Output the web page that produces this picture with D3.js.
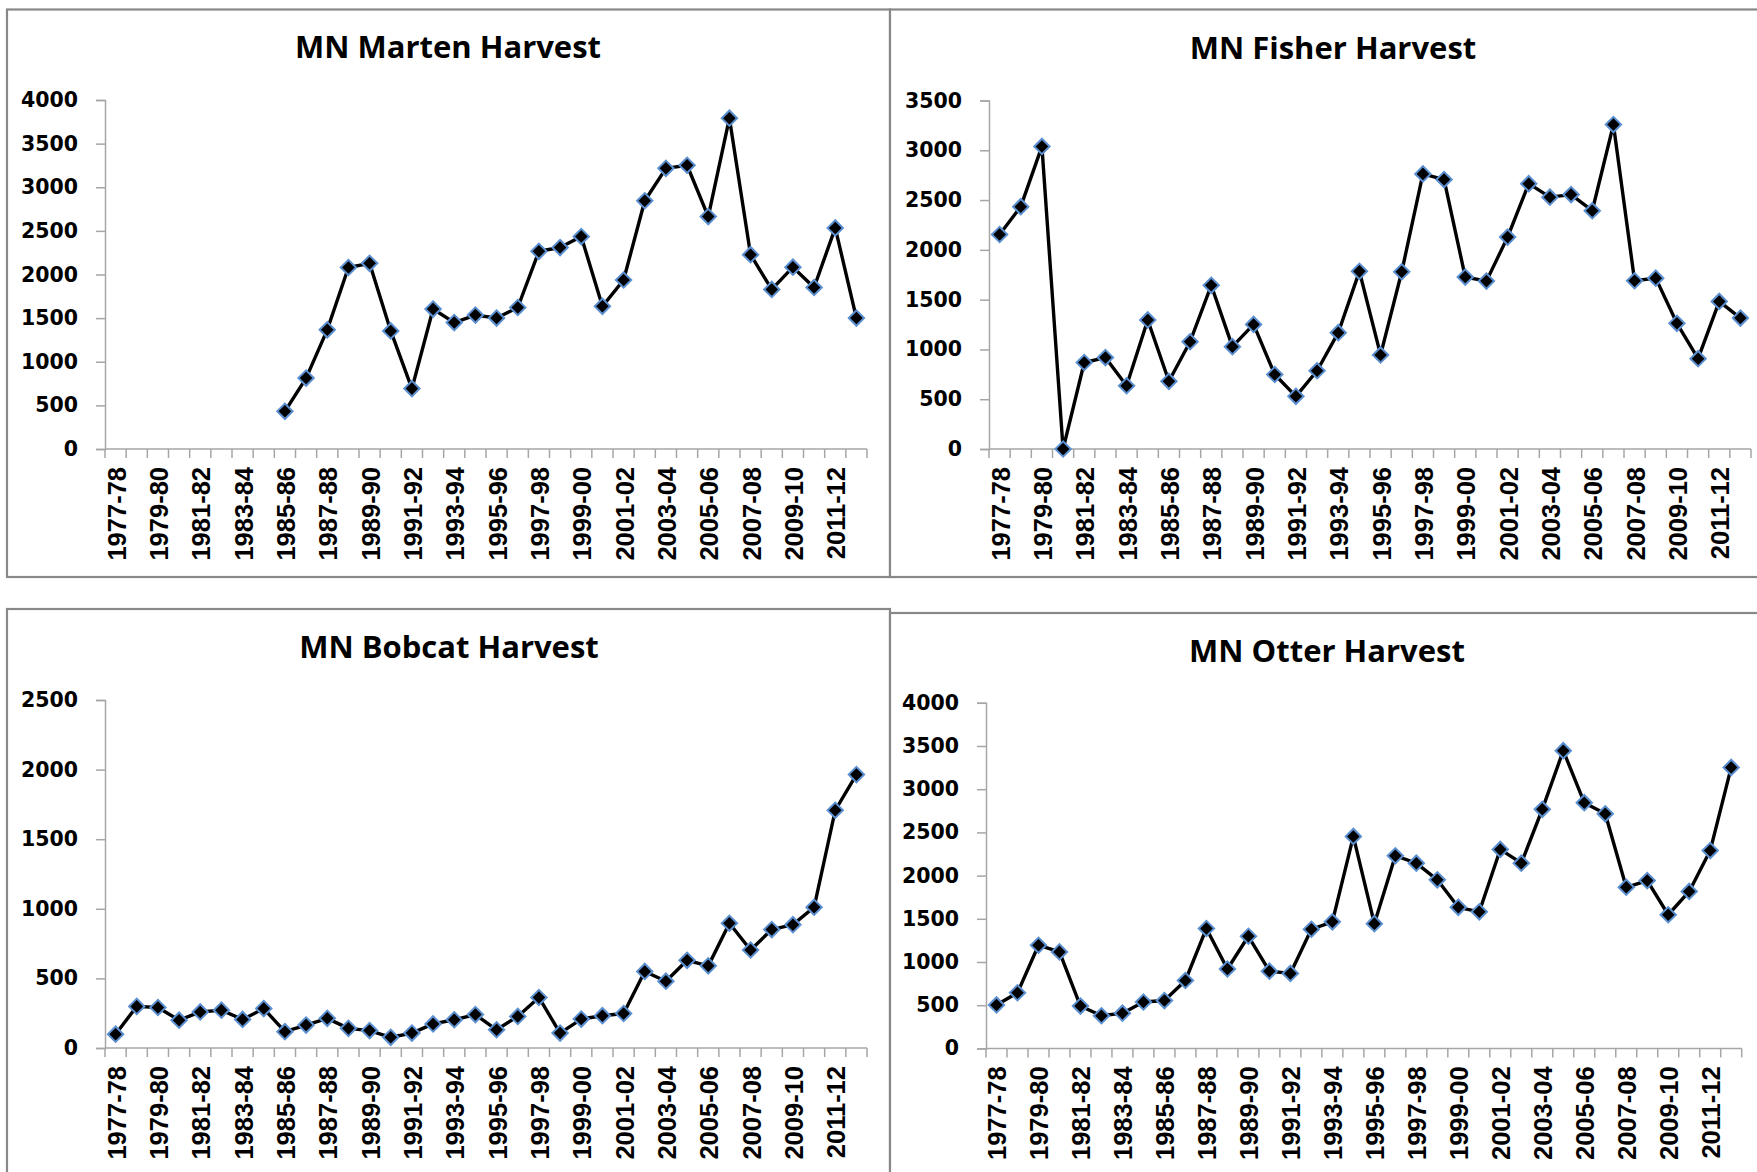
<!DOCTYPE html>
<html>
<head>
<meta charset="utf-8">
<script src="https://cdn.jsdelivr.net/npm/d3@7"></script>
<style>
  html, body { margin: 0; padding: 0; background: #fff; }
  svg { display: block; }
</style>
</head>
<body>
<svg id="chart" width="1757" height="1172"></svg>
<script>
// ---------------- DATA ----------------
const seasons = [
  "1977-78","1978-79","1979-80","1980-81","1981-82","1982-83","1983-84","1984-85",
  "1985-86","1986-87","1987-88","1988-89","1989-90","1990-91","1991-92","1992-93",
  "1993-94","1994-95","1995-96","1996-97","1997-98","1998-99","1999-00","2000-01",
  "2001-02","2002-03","2003-04","2004-05","2005-06","2006-07","2007-08","2008-09",
  "2009-10","2010-11","2011-12","2012-13"
];
const tickLabels = [
  "1977-78","1979-80","1981-82","1983-84","1985-86","1987-88","1989-90","1991-92",
  "1993-94","1995-96","1997-98","1999-00","2001-02","2003-04","2005-06","2007-08",
  "2009-10","2011-12"
];
const martenValues = [
  null, null, null, null, null, null, null, null,
  432, 813, 1366, 2080, 2128, 1353, 692, 1604,
  1449, 1535, 1501, 1622, 2266, 2309, 2435, 1635,
  1937, 2845, 3217, 3252, 2664, 3792, 2227, 1829,
  2084, 1851, 2534, 1501
];
const fisherValues = [
  2154, 2434, 3039, 0, 869, 918, 635, 1296,
  680, 1077, 1644, 1028, 1251, 748, 529, 786,
  1168, 1784, 945, 1780, 2763, 2706, 1727, 1686,
  2128, 2665, 2529, 2555, 2393, 3258, 1690, 1716,
  1262, 907, 1482, 1315
];
const bobcatValues = [
  99, 299, 291, 200, 259, 272, 205, 283,
  117, 165, 213, 141, 125, 77, 107, 173,
  203, 240, 131, 227, 363, 107, 208, 232,
  248, 550, 480, 630, 590, 896, 704, 851,
  886, 1011, 1708, 1964
];
const otterValues = [
  503, 644, 1194, 1117, 490, 378, 408, 537,
  554, 786, 1388, 919, 1298, 894, 868, 1379,
  1465, 2453, 1444, 2230, 2144, 1951, 1633, 1581,
  2303, 2144, 2767, 3446, 2844, 2715, 1865, 1942,
  1547, 1817, 2290, 3252
];
const titles = ["MN Marten Harvest", "MN Fisher Harvest", "MN Bobcat Harvest", "MN Otter Harvest"];
const yMaxes = [4000, 3500, 2500, 4000];
const yStep = 500;

// ---------------- LAYOUT ----------------
const layouts = [
  { box: [7, 9.5, 890, 577],    plot: [105, 867, 100, 449],    title: [448, 58] },
  { box: [890, 9.5, 1775, 577], plot: [989, 1751, 100.5, 449], title: [1333, 59] },
  { box: [7, 609, 890, 1200],   plot: [105, 867, 700, 1048],   title: [449, 658] },
  { box: [890, 613, 1775, 1200],plot: [986, 1741.7, 702.8, 1048.4], title: [1327, 662] }
];
const seriesList = [martenValues, fisherValues, bobcatValues, otterValues];

const svg = d3.select("#chart");
svg.append("rect").attr("width", 1757).attr("height", 1172).attr("fill", "#fff");

const axisColor = "#a6a6a6";
const borderColor = "#888888";

seriesList.forEach((values, i) => {
  const L = layouts[i];
  const [bx0, by0, bx1, by1] = L.box;
  const [px0, px1, py0, py1] = L.plot;
  const g = svg.append("g");

  g.append("rect")
    .attr("x", bx0).attr("y", by0)
    .attr("width", bx1 - bx0).attr("height", by1 - by0)
    .attr("fill", "#fff").attr("stroke", borderColor).attr("stroke-width", 2.2);

  const x = d3.scaleBand().domain(seasons).range([px0, px1]).paddingInner(0).paddingOuter(0);
  const y = d3.scaleLinear().domain([0, yMaxes[i]]).range([py1, py0]);

  // Title
  g.append("text")
    .attr("x", L.title[0]).attr("y", L.title[1])
    .attr("text-anchor", "middle")
    .attr("font-family", "'Open Sans', sans-serif")
    .attr("font-weight", "bold")
    .attr("font-size", "31px")
    .attr("fill", "#000")
    .text(titles[i]);

  // Y axis
  const yTicks = d3.range(0, yMaxes[i] + 1, yStep);
  const yAxis = d3.axisLeft(y).tickValues(yTicks).tickSize(9).tickPadding(18).tickFormat(d3.format("d"));
  const ya = g.append("g").attr("transform", `translate(${px0},0)`).call(yAxis);
  ya.select(".domain").attr("stroke", axisColor).attr("stroke-width", 1.5);
  ya.selectAll(".tick line").attr("stroke", axisColor).attr("stroke-width", 1.5);
  ya.selectAll(".tick text")
    .attr("font-family", "'DejaVu Sans', sans-serif")
    .attr("font-weight", "bold")
    .attr("font-size", "20.5px")
    .attr("fill", "#000");

  // X axis: ticks at category boundaries
  const boundaries = seasons.map(s => x(s)).concat([x(seasons[seasons.length - 1]) + x.bandwidth()]);
  const xg = g.append("g");
  xg.append("line")
    .attr("x1", px0).attr("x2", px1)
    .attr("y1", y(0)).attr("y2", y(0))
    .attr("stroke", axisColor).attr("stroke-width", 1.5);
  xg.selectAll("line.bt").data(boundaries).enter().append("line")
    .attr("class", "bt")
    .attr("x1", d => d).attr("x2", d => d)
    .attr("y1", y(0)).attr("y2", y(0) + 9)
    .attr("stroke", axisColor).attr("stroke-width", 1.5);
  xg.selectAll("text").data(tickLabels).enter().append("text")
    .attr("transform", d => `translate(${x(d) + x.bandwidth() / 2 + 1},${y(0) + 18}) rotate(-90)`)
    .attr("text-anchor", "end")
    .attr("dy", "0.35em")
    .attr("font-family", "'Liberation Sans', Arial, sans-serif")
    .attr("font-weight", "bold")
    .attr("font-size", "25.5px")
    .attr("fill", "#000")
    .text(d => d);

  // Line
  const pts = seasons.map((s, k) => ({ s, v: values[k] }));
  const line = d3.line()
    .defined(d => d.v !== null)
    .x(d => x(d.s) + x.bandwidth() / 2)
    .y(d => y(d.v));
  g.append("path")
    .datum(pts)
    .attr("d", line)
    .attr("fill", "none")
    .attr("stroke", "#000")
    .attr("stroke-width", 3.4)
    .attr("stroke-linejoin", "round");

  // Markers
  const diamond = d3.symbol().type(d3.symbolSquare).size(118);
  g.selectAll("path.mk").data(pts.filter(d => d.v !== null)).enter().append("path")
    .attr("class", "mk")
    .attr("d", diamond)
    .attr("transform", d => `translate(${x(d.s) + x.bandwidth() / 2},${y(d.v)}) rotate(45)`)
    .attr("fill", "#000")
    .attr("stroke", "#5b8fd0")
    .attr("stroke-width", 2);
});
</script>
</body>
</html>
